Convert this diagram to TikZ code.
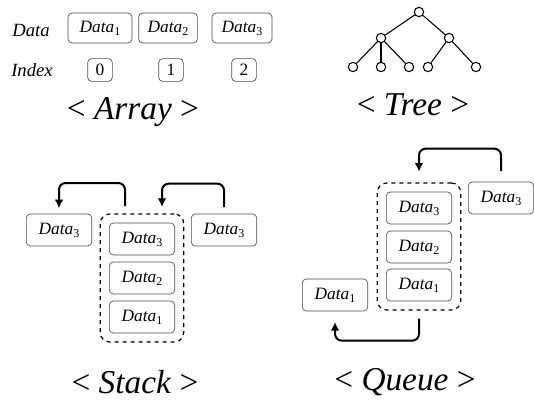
\documentclass[tikz,border=0pt]{standalone}
\usepackage{fontspec}
\newfontfamily\camfont{Liberation Serif}
\newcommand\dat[1]{{\itshape Data}\raisebox{-0.4ex}{\fontsize{9}{10}\selectfont #1}}
\usetikzlibrary{arrows.meta,fit}
\begin{document}
\begin{tikzpicture}[x=0.75pt,y=-0.75pt,
    cell/.style={draw=black!70,rounded corners=3pt,minimum width=49pt,
        minimum height=24pt,inner sep=0pt,line width=0.5pt,
        font=\camfont\fontsize{13}{15}\selectfont},
    idx/.style={draw=black!70,rounded corners=3pt,minimum width=18.5pt,
        minimum height=17pt,inner sep=0pt,line width=0.5pt,
        font=\camfont\fontsize{13}{15}\selectfont},
    lbl/.style={font=\camfont\itshape\fontsize{14}{16}\selectfont},
    title/.style={font=\camfont\fontsize{25}{28}\selectfont},
    vtx/.style={draw,circle,fill=white,minimum size=7pt,inner sep=0pt,
        line width=0.8pt},
    hold/.style={draw,dashed,rounded corners=7pt,line width=0.9pt,
        inner sep=6.5pt},
    move/.style={line width=1.5pt,rounded corners=5pt,
        -{Latex[length=6.5pt,width=6.5pt]}}
]
    \useasboundingbox (0,0) rectangle (534,403);

    % array
    \node[lbl] (dlbl) at (31,30) {Data};
    \node[lbl] (ilbl) at (32,70) {Index};
    \node[cell,minimum height=22.5pt,minimum width=48pt] (a1) at (100,28) {\dat{1}};
    \node[cell,minimum height=22.5pt,minimum width=44pt] (a2) at (168,28) {\dat{2}};
    \node[cell,minimum height=22.5pt,minimum width=45pt] (a3) at (242,28) {\dat{3}};
    \node[idx] (i0) at (100,70) {0};
    \node[idx] (i1) at (171,70) {1};
    \node[idx] (i2) at (244,70) {2};
    \node[title] (tarr) at (133,112) {< \textit{Array} >};

    % tree
    \node[vtx] (r) at (419,12) {};
    \node[vtx] (n1) at (381,38) {};
    \node[vtx] (n2) at (449,38) {};
    \node[vtx] (l1) at (353,67) {};
    \node[vtx] (l2) at (381,67) {};
    \node[vtx] (l3) at (409,67) {};
    \node[vtx] (l4) at (428,67) {};
    \node[vtx] (l5) at (476,67) {};
    \foreach \x/\y in {r/n1,r/n2,n1/l1,n1/l2,n1/l3,n2/l4,n2/l5}
        \draw[line width=0.8pt] (\x)--(\y);
    \node[title] (ttree) at (413,105) {< \textit{Tree} >};

    % stack
    \node[cell] (s3) at (142,239) {\dat{3}};
    \node[cell] (s2) at (142,278) {\dat{2}};
    \node[cell] (s1) at (142,317) {\dat{1}};
    \node[hold,fit=(s3)(s1)] (stk) {};
    \node[cell] (spop) at (59,230) {\dat{3}};
    \node[cell] (spush) at (224,230) {\dat{3}};
    \coordinate (popfrom) at (125,206);
    \coordinate (pushto) at (162,207);
    \draw[move,shorten >=4pt] (popfrom) -- ++(0,-23) -| (spop.north);
    \draw[move,shorten <=5pt] (spush.north) -- ++(0,-30) -| (pushto);
    \node[title] (tstk) at (135,382) {< \textit{Stack} >};

    % queue
    \node[cell] (q3) at (419,208) {\dat{3}};
    \node[cell] (q2) at (419,247) {\dat{2}};
    \node[cell] (q1) at (419,285) {\dat{1}};
    \node[hold,fit=(q3)(q1)] (que) {};
    \node[cell] (qin) at (501,198) {\dat{3}};
    \node[cell] (qout) at (335,295) {\dat{1}};
    \draw[move,shorten <=8pt,shorten >=8pt] (qin.north) -- ++(0,-33) -| (que.north);
    \draw[move,shorten <=6pt,shorten >=8pt] (que.south) -- ++(0,30) -| (qout.south);
    \node[title] (tque) at (405,382) {< \textit{Queue} >};
\end{tikzpicture}
\end{document}
